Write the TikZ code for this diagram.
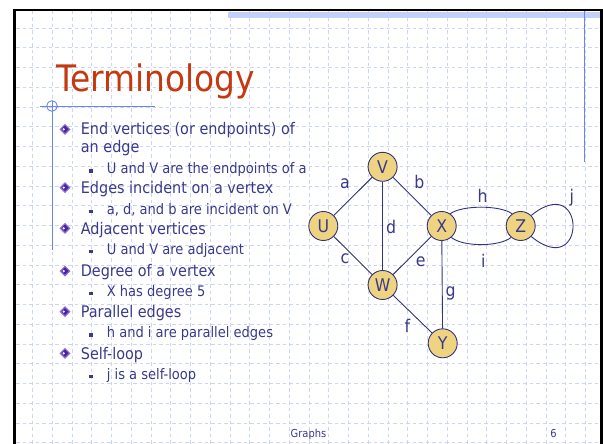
\documentclass[tikz,border=0pt]{standalone}
\usepackage{fontspec}
\newfontfamily\tah{DejaVu Sans Condensed}
\definecolor{txt}{RGB}{58,58,140}
\definecolor{ttl}{RGB}{196,57,15}
\definecolor{gridc}{RGB}{204,212,248}
\definecolor{hatchc}{RGB}{196,208,248}
\definecolor{bluel}{RGB}{105,135,235}
\definecolor{nodef}{RGB}{238,212,128}
\definecolor{nodeb}{RGB}{50,50,125}
\definecolor{bulout}{RGB}{140,110,215}
\definecolor{bulin}{RGB}{75,35,155}
\tikzset{
  gridline/.style={draw=gridc,line width=0.6pt,dash pattern=on 3.5pt off 3pt},
  blueline/.style={draw=bluel,line width=0.9pt},
  vtx/.style={circle,draw=nodeb,fill=nodef,minimum size=29pt,inner sep=0pt,line width=0.9pt,
    text=txt,font=\tah\fontsize{17.5}{17.5}\selectfont},
  edge/.style={draw=nodeb,line width=0.9pt},
  lbl/.style={inner sep=0pt,text=txt,font=\tah\fontsize{17.5}{17.5}\selectfont,anchor=base},
  maintxt/.style={inner sep=0pt,text=txt,font=\tah\fontsize{16}{16}\selectfont,anchor=base west},
  subtxt/.style={inner sep=0pt,text=txt,font=\tah\fontsize{14.5}{14.5}\selectfont,anchor=base west},
  foot/.style={inner sep=0pt,text=txt,font=\tah\fontsize{11}{11}\selectfont,anchor=base},
  dbullet/.pic={
    \fill[bulout] (-5.5,0) -- (0,-5.5) -- (5.5,0) -- (0,5.5) -- cycle;
    \fill[bulin] (-3.6,0) -- (0,-3.6) -- (3.6,0) -- (0,3.6) -- cycle;
    \fill[white!85!bulout] (-2.6,0) -- (-1.3,-1.3) -- (0,0) -- (-1.3,1.3) -- cycle;
  },
  sqbullet/.pic={\fill[txt] (-2,-4.3) rectangle (2,-0.7);}
}
\begin{document}
\begin{tikzpicture}[x=1pt,y=-1pt]
\useasboundingbox (0,0) rectangle (603,444);
\fill[white] (0,0) rectangle (603,444);
% grid
\begin{scope}
  \clip (16,11) rectangle (600,444);
  \foreach \i in {0,...,29} {\draw[gridline] ({32.5+\i*19.75},11) -- ({32.5+\i*19.75},444);}
  \foreach \j in {0,...,21} {\draw[gridline] (16,{28+\j*19.75}) -- (600,{28+\j*19.75});}
\end{scope}
% top band
\fill[hatchc] (228,12) rectangle (600,18.5);
% frame
\draw[black,line width=3pt] (14.5,9.5) -- (14.5,444);
\draw[black,line width=3pt] (601.5,9.5) -- (601.5,444);
\draw[black,line width=1.6pt] (13,10.3) -- (603,10.3);
% decorative blue lines
\draw[blueline] (584.5,11) -- (584.5,162);
\draw[blueline] (40,106) -- (155,106);
\draw[blueline] (52,100.7) -- (52,250);
\draw[blueline] (52,106) circle[radius=5.3pt];
% title
\node[inner sep=0pt,anchor=base west,text=ttl,font=\tah\fontsize{36.5}{36.5}\selectfont] (title) at (56.5,92) {Terminology};
% bullets and text
\pic at (65,129.3) {dbullet};
\node[maintxt] (t1) at (80.7,135) {End vertices (or endpoints) of};
\node[maintxt] (t1b) at (80.7,152.7) {an edge};
\pic at (91,173.3) {sqbullet};
\node[subtxt] (s1) at (106.7,173.3) {U and V are the endpoints of a};
\pic at (65,187.6) {dbullet};
\node[maintxt] (t2) at (80.7,193.3) {Edges incident on a vertex};
\pic at (91,214) {sqbullet};
\node[subtxt] (s2) at (106.7,214) {a, d, and b are incident on V};
\pic at (65,228.3) {dbullet};
\node[maintxt] (t3) at (80.7,234) {Adjacent vertices};
\pic at (91,254) {sqbullet};
\node[subtxt] (s3) at (106.7,254) {U and V are adjacent};
\pic at (65,271) {dbullet};
\node[maintxt] (t4) at (80.7,276.7) {Degree of a vertex};
\pic at (91,296) {sqbullet};
\node[subtxt] (s4) at (106.7,296) {X has degree 5};
\pic at (65,311.6) {dbullet};
\node[maintxt] (t5) at (80.7,317.3) {Parallel edges};
\pic at (91,337.3) {sqbullet};
\node[subtxt] (s5) at (106.7,337.3) {h and i are parallel edges};
\pic at (65,353.3) {dbullet};
\node[maintxt] (t6) at (80.7,359) {Self-loop};
\pic at (91,379) {sqbullet};
\node[subtxt] (s6) at (106.7,379) {j is a self-loop};
% graph
\node[vtx] (V) at (382.6,166.8) {V};
\node[vtx] (U) at (323.3,226) {U};
\node[vtx] (X) at (441.7,226) {X};
\node[vtx] (Z) at (520.7,226) {Z};
\node[vtx] (W) at (382.6,285) {W};
\node[vtx] (Y) at (442.7,343.3) {Y};
\draw[edge] (U) -- (V);
\draw[edge] (V) -- (X);
\draw[edge] (U) -- (W);
\draw[edge] (V) -- (W);
\draw[edge] (X) -- (W);
\draw[edge] (W) -- (Y);
\draw[edge] (X) -- (Y);
\draw[edge] (X.55) .. controls (462,205) and (500,205) .. (Z.125);
\draw[edge] (X.-50) .. controls (463,247) and (499,247) .. (Z.-130);
\draw[edge] (Z.45) .. controls (587,170) and (587,282) .. (Z.-45);
% edge labels
\node[lbl] (la) at (345,188.3) {a};
\node[lbl] (lb) at (419.3,188.3) {b};
\node[lbl] (lh) at (482.7,202.3) {h};
\node[lbl] (lj) at (571.7,202.3) {j};
\node[lbl] (ld) at (391,233.3) {d};
\node[lbl] (lc) at (345,263.3) {c};
\node[lbl] (le) at (420.7,266) {e};
\node[lbl] (li) at (483.3,267.7) {i};
\node[lbl] (lg) at (450.7,296.7) {g};
\node[lbl] (lf) at (407.3,332.3) {f};
% footer
\node[foot] (ft) at (308.5,437) {Graphs};
\node[foot] (pg) at (553.5,437) {6};
\end{tikzpicture}
\end{document}
